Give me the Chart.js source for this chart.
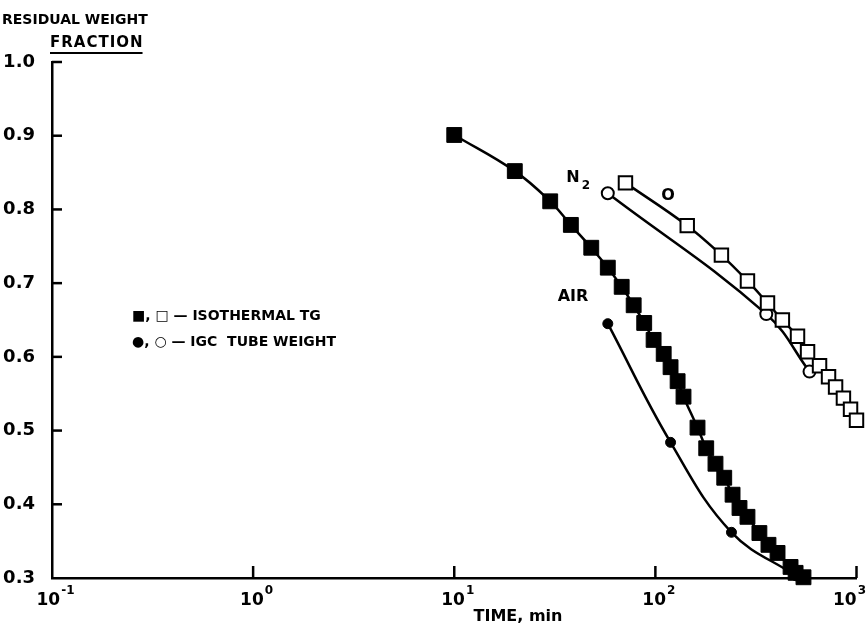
<!DOCTYPE html>
<html>
<head>
<meta charset="utf-8">
<script src="https://cdn.jsdelivr.net/npm/chart.js@4.4.1/dist/chart.umd.min.js"></script>
<style>
  html, body { margin: 0; padding: 0; background: #fff; }
</style>
</head>
<body>
<canvas id="grafico" width="868" height="627"></canvas>
<script>
// values: time in min, residual weight fraction
const tgAirTime = [10, 20, 30, 38, 48, 58, 68, 78, 88, 98, 110, 119, 129, 138, 162, 179, 199, 220, 242, 262, 287, 329, 365, 405, 470, 498, 545];
const tgAirFrac = [0.901, 0.852, 0.811, 0.779, 0.748, 0.721, 0.695, 0.670, 0.646, 0.623, 0.604, 0.586, 0.567, 0.546, 0.504, 0.476, 0.455, 0.436, 0.413, 0.395, 0.383, 0.361, 0.345, 0.334, 0.315, 0.307, 0.301];

const igcAirTime = [58, 119, 239, 500];
const igcAirFrac = [0.645, 0.484, 0.362, 0.303];

const tgN2Time = [71, 144, 213, 287, 361, 428, 509, 571, 655, 726, 787, 861, 934, 1000];
const tgN2Frac = [0.836, 0.778, 0.738, 0.703, 0.673, 0.650, 0.628, 0.607, 0.588, 0.573, 0.559, 0.544, 0.529, 0.514];

const igcN2Time = [58, 356, 584];
const igcN2Frac = [0.822, 0.658, 0.580];

const xTickValues = [0.1, 1, 10, 100, 1000];
const xTickExp = ['-1', '0', '1', '2', '3'];
const yTickValues = [0.3, 0.4, 0.5, 0.6, 0.7, 0.8, 0.9, 1.0];

const FONT = '"DejaVu Sans", sans-serif';

function pares(xs, ys) {
    return xs.map((x, i) => ({ x: x, y: ys[i] }));
}

function serie(xs, ys, estilo, raio, cheio, borda) {
    return {
        data: pares(xs, ys),
        borderColor: '#000',
        borderWidth: 2.5,
        pointStyle: estilo,
        pointRadius: raio,
        pointBackgroundColor: cheio ? '#000' : '#fff',
        pointBorderColor: '#000',
        pointBorderWidth: borda,
        tension: 0.4,
        clip: false,
        fill: false
    };
}

// tick marks pointing into the plot, x labels with exponents, free text
const extras = {
    id: 'extras',
    afterDraw(chart) {
        const { ctx, chartArea, scales } = chart;
        ctx.save();
        ctx.strokeStyle = '#000';
        ctx.lineWidth = 2.5;
        yTickValues.forEach(v => {
            if (v <= 0.3) return;
            const y = scales.y.getPixelForValue(v);
            ctx.beginPath();
            ctx.moveTo(chartArea.left, y);
            ctx.lineTo(chartArea.left + 10, y);
            ctx.stroke();
        });
        xTickValues.forEach(v => {
            if (v <= 0.1) return;
            const x = scales.x.getPixelForValue(v);
            ctx.beginPath();
            ctx.moveTo(x, chartArea.bottom);
            ctx.lineTo(x, chartArea.bottom - 12);
            ctx.stroke();
        });

        ctx.fillStyle = '#000';
        ctx.textBaseline = 'middle';

        // x tick labels: 10 with raised exponent
        xTickValues.forEach((v, i) => {
            const x = scales.x.getPixelForValue(v);
            ctx.font = 'bold 17px ' + FONT;
            const wBase = ctx.measureText('10').width;
            ctx.font = 'bold 12px ' + FONT;
            const wExp = ctx.measureText(xTickExp[i]).width;
            let x0 = x - (wBase + wExp) / 2 + 3;
            x0 = Math.min(x0, 866 - wBase - wExp - 1);
            ctx.textAlign = 'left';
            ctx.font = 'bold 17px ' + FONT;
            ctx.fillText('10', x0, 601);
            ctx.font = 'bold 12px ' + FONT;
            ctx.fillText(xTickExp[i], x0 + wBase + 1, 591);
        });

        // y axis title
        ctx.font = 'bold 14px ' + FONT;
        ctx.textAlign = 'left';
        ctx.fillText('RESIDUAL WEIGHT', 2, 20);
        ctx.font = 'bold 15px ' + FONT;
        ctx.letterSpacing = '1px';
        ctx.fillText('FRACTION', 50, 43);
        const w = ctx.measureText('FRACTION').width;
        ctx.letterSpacing = '0px';
        ctx.lineWidth = 2;
        ctx.beginPath();
        ctx.moveTo(50, 53);
        ctx.lineTo(49 + w, 53);
        ctx.stroke();

        // x axis title
        ctx.font = 'bold 16px ' + FONT;
        ctx.textAlign = 'center';
        ctx.fillText('TIME, min', 518, 617);

        // curve labels
        ctx.font = 'bold 16px ' + FONT;
        ctx.textAlign = 'center';
        ctx.fillText('N', 573, 178);
        ctx.font = 'bold 12px ' + FONT;
        ctx.fillText('2', 586, 186);
        ctx.font = 'bold 16px ' + FONT;
        ctx.fillText('O', 668, 196);
        ctx.fillText('AIR', 573, 297);

        // legend
        ctx.font = 'bold 14px ' + FONT;
        ctx.textAlign = 'left';
        ctx.fillText('\u25A0, \u25A1 \u2014 ISOTHERMAL TG', 132, 316);
        ctx.fillText('\u25CF, \u25CB \u2014 IGC  TUBE WEIGHT', 132, 342);
        ctx.restore();
    }
};

new Chart(document.getElementById('grafico'), {
    type: 'line',
    data: {
        datasets: [
            serie(tgAirTime, tgAirFrac, 'rect', 10.5, true, 1),
            serie(igcAirTime, igcAirFrac, 'circle', 5, true, 1),
            serie(tgN2Time, tgN2Frac, 'rect', 9.5, false, 2),
            serie(igcN2Time, igcN2Frac, 'circle', 6, false, 2)
        ]
    },
    options: {
        responsive: false,
        animation: false,
        layout: { padding: { top: 62, right: 11, left: 0, bottom: 0 } },
        plugins: {
            legend: { display: false },
            tooltip: { enabled: false }
        },
        scales: {
            x: {
                type: 'logarithmic',
                min: 0.1,
                max: 1000,
                afterBuildTicks: s => { s.ticks = xTickValues.map(v => ({ value: v })); },
                afterFit: s => { s.height = 49; s.paddingLeft = 0; s.paddingRight = 0; },
                grid: { display: false },
                border: { color: '#000', width: 2.5 },
                ticks: { display: false }
            },
            y: {
                type: 'linear',
                min: 0.3,
                max: 1.0,
                afterBuildTicks: s => { s.ticks = yTickValues.map(v => ({ value: v })); },
                afterFit: s => { s.width = 52; s.paddingTop = 0; s.paddingBottom = 0; },
                grid: { display: false },
                border: { color: '#000', width: 2.5 },
                ticks: {
                    padding: 9,
                    color: '#000',
                    font: { family: FONT, size: 18, weight: 'bold' },
                    callback: v => v.toFixed(1)
                }
            }
        }
    },
    plugins: [extras]
});
</script>
</body>
</html>
